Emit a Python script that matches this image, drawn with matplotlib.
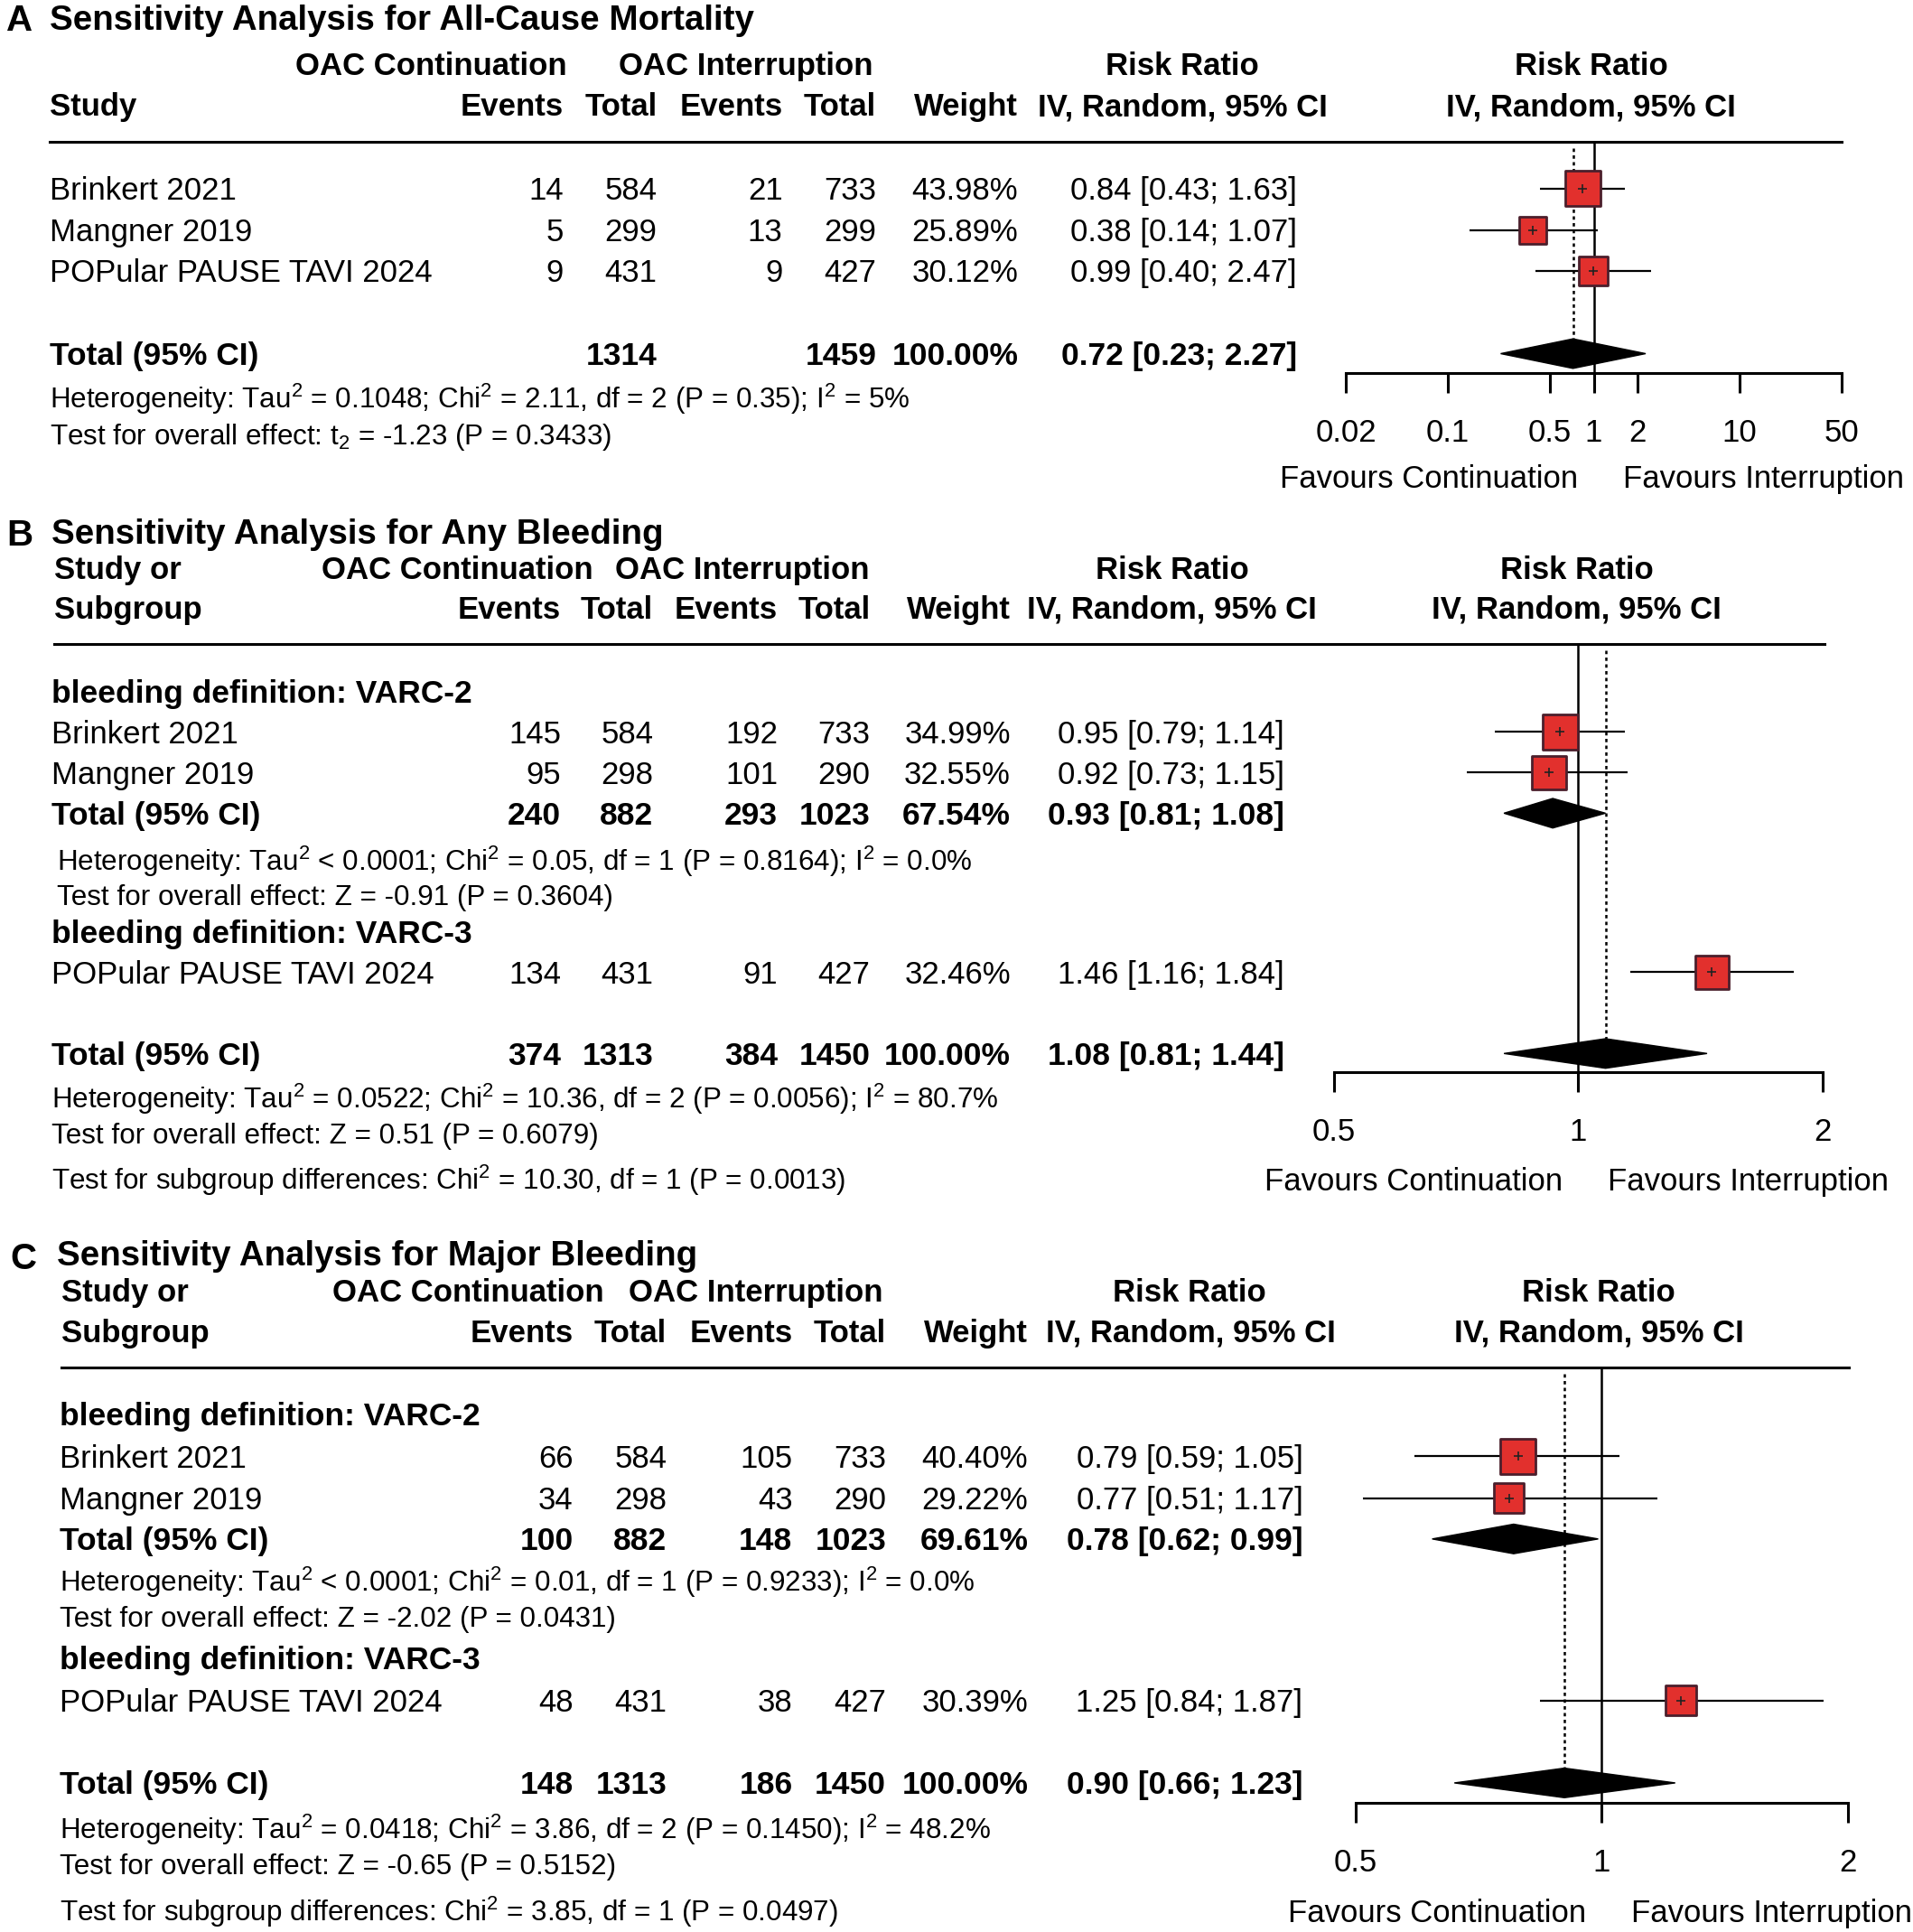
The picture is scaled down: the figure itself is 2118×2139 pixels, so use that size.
import numpy as np
import matplotlib
matplotlib.use('Agg')
import matplotlib.pyplot as plt
from matplotlib.ticker import NullLocator

plt.rcParams['font.family'] = ['Liberation Sans', 'DejaVu Sans']
plt.rcParams['mathtext.fontset'] = 'custom'
plt.rcParams['mathtext.rm'] = 'Liberation Sans'
plt.rcParams['mathtext.it'] = 'Liberation Sans:italic'
plt.rcParams['mathtext.bf'] = 'Liberation Sans:bold'

# ---- data: A all-cause mortality
studies_A = ['Brinkert 2021', 'Mangner 2019', 'POPular PAUSE TAVI 2024']
ev_cont_A = [14, 5, 9]
tot_cont_A = [584, 299, 431]
ev_int_A = [21, 13, 9]
tot_int_A = [733, 299, 427]
weight_A = [43.98, 25.89, 30.12]
rr_A = [0.84, 0.38, 0.99]
lo_A = [0.43, 0.14, 0.40]
hi_A = [1.63, 1.07, 2.47]
total_A = ['', 1314, '', 1459, 100.00, 0.72, 0.23, 2.27]
het_A = ['Heterogeneity: Tau$^2$ = 0.1048; Chi$^2$ = 2.11, df = 2 (P = 0.35); I$^2$ = 5%',
         'Test for overall effect: t$_2$ = -1.23 (P = 0.3433)']
ticks_A = [0.02, 0.1, 0.5, 1, 2, 10, 50]

# ---- data: B any bleeding
studies_B = ['Brinkert 2021', 'Mangner 2019', 'POPular PAUSE TAVI 2024']
ev_cont_B = [145, 95, 134]
tot_cont_B = [584, 298, 431]
ev_int_B = [192, 101, 91]
tot_int_B = [733, 290, 427]
weight_B = [34.99, 32.55, 32.46]
rr_B = [0.95, 0.92, 1.46]
lo_B = [0.79, 0.73, 1.16]
hi_B = [1.14, 1.15, 1.84]
sub_B = [240, 882, 293, 1023, 67.54, 0.93, 0.81, 1.08]
total_B = [374, 1313, 384, 1450, 100.00, 1.08, 0.81, 1.44]
het_B = ['Heterogeneity: Tau$^2$ < 0.0001; Chi$^2$ = 0.05, df = 1 (P = 0.8164); I$^2$ = 0.0%',
         'Test for overall effect: Z = -0.91 (P = 0.3604)',
         'Heterogeneity: Tau$^2$ = 0.0522; Chi$^2$ = 10.36, df = 2 (P = 0.0056); I$^2$ = 80.7%',
         'Test for overall effect: Z = 0.51 (P = 0.6079)',
         'Test for subgroup differences: Chi$^2$ = 10.30, df = 1 (P = 0.0013)']

# ---- data: C major bleeding
studies_C = ['Brinkert 2021', 'Mangner 2019', 'POPular PAUSE TAVI 2024']
ev_cont_C = [66, 34, 48]
tot_cont_C = [584, 298, 431]
ev_int_C = [105, 43, 38]
tot_int_C = [733, 290, 427]
weight_C = [40.40, 29.22, 30.39]
rr_C = [0.79, 0.77, 1.25]
lo_C = [0.59, 0.51, 0.84]
hi_C = [1.05, 1.17, 1.87]
sub_C = [100, 882, 148, 1023, 69.61, 0.78, 0.62, 0.99]
total_C = [148, 1313, 186, 1450, 100.00, 0.90, 0.66, 1.23]
het_C = ['Heterogeneity: Tau$^2$ < 0.0001; Chi$^2$ = 0.01, df = 1 (P = 0.9233); I$^2$ = 0.0%',
         'Test for overall effect: Z = -2.02 (P = 0.0431)',
         'Heterogeneity: Tau$^2$ = 0.0418; Chi$^2$ = 3.86, df = 2 (P = 0.1450); I$^2$ = 48.2%',
         'Test for overall effect: Z = -0.65 (P = 0.5152)',
         'Test for subgroup differences: Chi$^2$ = 3.85, df = 1 (P = 0.0497)']
ticks_BC = [0.5, 1, 2]

SQ_FILL = '#e2302d'
SQ_EDGE = '#4b1f2c'
FS = 25        # body text
FS_B = 25.5    # bold body text
FS_H = 22.6    # heterogeneity lines

# working grid = reference scaled to 1552 x 1568
W, H = 1552, 1568
fig = plt.figure(figsize=(21.18, 21.39), dpi=100)
bg = fig.add_axes([0, 0, 1, 1])
bg.set_xlim(0, W)
bg.set_ylim(H, 0)
bg.axis('off')


def txt(x, y, s, size=None, bold=False, ha='left'):
    if size is None:
        size = FS_B if bold else FS
    bg.text(x, y + 2, s, fontsize=size, fontweight='bold' if bold else 'normal',
            ha=ha, va='center')


def ci_str(r, l, h):
    return f"{r:.2f} [{l:.2f}; {h:.2f}]"


def row_text(cols, y, vals, bold=False):
    # vals: ev1, tot1, ev2, tot2, weight, rr, lo, hi
    for c, v in zip(cols[:4], vals[:4]):
        txt(c, y, str(v), bold=bold, ha='right')
    txt(cols[4], y, f"{vals[4]:.2f}%", bold=bold, ha='right')
    txt(cols[5], y, ci_str(vals[5], vals[6], vals[7]), bold=bold, ha='right')


def header(lay, first, second):
    cols = lay['cols']
    y1, y2 = lay['head_y']
    txt(lay['x'], y1, first, 25, True)
    txt(lay['x'], y2, second, 25, True)
    txt(lay['grp'][0], y1, 'OAC Continuation', 25, True, 'center')
    txt(lay['grp'][1], y1, 'OAC Interruption', 25, True, 'center')
    txt(lay['rr_c'], y1, 'Risk Ratio', 25, True, 'center')
    txt(lay['plot_c'], y1, 'Risk Ratio', 25, True, 'center')
    for c, s in zip(cols[:5], ['Events', 'Total', 'Events', 'Total', 'Weight']):
        txt(c, y2, s, 25, True, 'right')
    txt(lay['ci_head'], y2, 'IV, Random, 95% CI', 25, True, 'right')
    txt(lay['plot_c'], y2, 'IV, Random, 95% CI', 25, True, 'center')
    bg.plot([lay['x'], lay['line_x1']], [lay['line_y'], lay['line_y']],
            color='black', lw=2.2)
    txt(lay['tag'][0], lay['tag'][1], lay['letter'], 29, True)


def forest(lay, xlim, ticks, ys, rr, lo, hi, wt, diamonds, pooled):
    x0, x1 = lay['px']
    ytop, ybot = lay['line_y'], lay['axis_y']
    ax = fig.add_axes([x0 / W, 1 - ybot / H, (x1 - x0) / W, (ybot - ytop) / H])
    ax.set_xscale('log')
    ax.set_xlim(xlim)
    ax.set_ylim(ybot, ytop)
    ax.patch.set_alpha(0)
    for s in ['top', 'left', 'right']:
        ax.spines[s].set_visible(False)
    ax.spines['bottom'].set_linewidth(2.2)
    ax.set_yticks([])
    ax.set_xticks(ticks)
    ax.set_xticklabels([f"{t:g}" for t in ticks], fontsize=25)
    ax.xaxis.set_minor_locator(NullLocator())
    ax.tick_params(axis='x', length=16, width=2.2, pad=20)

    ax.plot([1, 1], [ytop, ybot], color='black', lw=1.8, clip_on=False)
    dtop = diamonds[-1][0] - 12
    ax.plot([pooled, pooled], [ytop + 5, dtop], color='black', lw=1.8,
            ls=(0, (1.5, 1.5)))

    ax.hlines(ys, lo, hi, color='black', lw=1.6, zorder=2)
    w = np.array(wt)
    ax.scatter(rr, ys, s=(28 * np.sqrt(w / w.max())) ** 2, marker='s',
               color=SQ_FILL, edgecolor=SQ_EDGE, linewidth=2.0, zorder=3)
    ax.scatter(rr, ys, s=60, marker='+', color='#222222', linewidth=1.2, zorder=4)
    for y, est, l, h in diamonds:
        ax.fill([l, est, h, est], [y, y - 12, y, y + 12], color='black',
                zorder=3, clip_on=False)

    # favours labels around the line of no effect
    x_one = x0 + (x1 - x0) * (0 - np.log(xlim[0])) / (np.log(xlim[1]) - np.log(xlim[0]))
    fy = ybot + lay['fav_dy']
    txt(x_one - 13, fy, 'Favours Continuation', 25, False, 'right')
    txt(x_one + 24, fy, 'Favours Interruption', 25, False, 'left')


# ================= Panel A
lay_A = dict(letter='A', tag=(5, 15), x=40, head_y=(52, 85), grp=(350, 605),
             rr_c=959, plot_c=1291, cols=[457, 533, 635, 711, 826, 1052],
             ci_head=1077, line_y=115, line_x1=1494, px=(1092, 1494),
             axis_y=303, fav_dy=84)
txt(40, 15, 'Sensitivity Analysis for All-Cause Mortality', 27.7, True)
header(lay_A, '', 'Study')
ys_A = [153, 187, 220]
for i, y in enumerate(ys_A):
    txt(40, y, studies_A[i])
    row_text(lay_A['cols'], y, [ev_cont_A[i], tot_cont_A[i], ev_int_A[i], tot_int_A[i],
                                weight_A[i], rr_A[i], lo_A[i], hi_A[i]])
txt(40, 287, 'Total (95% CI)', bold=True)
row_text(lay_A['cols'], 287, total_A, bold=True)
txt(40, 322, het_A[0], FS_H)
txt(40, 353, het_A[1], FS_H)
forest(lay_A, (0.02, 50), ticks_A, ys_A, rr_A, lo_A, hi_A, weight_A,
       [(287, total_A[5], total_A[6], total_A[7])], total_A[5])

# ================= Panel B
lay_B = dict(letter='B', tag=(5, 433), x=44, head_y=(461, 493), grp=(371, 602),
             rr_c=951, plot_c=1279, cols=[455, 530, 631, 706, 820, 1042],
             ci_head=1068, line_y=523, line_x1=1480, px=(1082, 1479),
             axis_y=870, fav_dy=87)
txt(42, 432, 'Sensitivity Analysis for Any Bleeding', 27.7, True)
header(lay_B, 'Study or', 'Subgroup')
ys_B = [594, 627, 789]
txt(42, 561, 'bleeding definition: VARC-2', bold=True)
txt(42, 756, 'bleeding definition: VARC-3', bold=True)
for i, y in enumerate(ys_B):
    txt(42, y, studies_B[i])
    row_text(lay_B['cols'], y, [ev_cont_B[i], tot_cont_B[i], ev_int_B[i], tot_int_B[i],
                                weight_B[i], rr_B[i], lo_B[i], hi_B[i]])
txt(42, 660, 'Total (95% CI)', bold=True)
row_text(lay_B['cols'], 660, sub_B, bold=True)
txt(42, 855, 'Total (95% CI)', bold=True)
row_text(lay_B['cols'], 855, total_B, bold=True)
for y, s, x in zip([697, 727, 890, 920, 956], het_B, [46, 46, 42, 42, 42]):
    txt(x, y, s, FS_H)
forest(lay_B, (0.5, 2), ticks_BC, ys_B, rr_B, lo_B, hi_B, weight_B,
       [(660, sub_B[5], sub_B[6], sub_B[7]), (855, total_B[5], total_B[6], total_B[7])],
       total_B[5])

# ================= Panel C
lay_C = dict(letter='C', tag=(8, 1020), x=50, head_y=(1047, 1080), grp=(380, 613),
             rr_c=965, plot_c=1297, cols=[465, 541, 643, 719, 834, 1057],
             ci_head=1084, line_y=1110, line_x1=1500, px=(1100, 1499),
             axis_y=1463, fav_dy=88)
txt(46, 1018, 'Sensitivity Analysis for Major Bleeding', 27.7, True)
header(lay_C, 'Study or', 'Subgroup')
ys_C = [1182, 1216, 1380]
txt(48, 1148, 'bleeding definition: VARC-2', bold=True)
txt(48, 1346, 'bleeding definition: VARC-3', bold=True)
for i, y in enumerate(ys_C):
    txt(48, y, studies_C[i])
    row_text(lay_C['cols'], y, [ev_cont_C[i], tot_cont_C[i], ev_int_C[i], tot_int_C[i],
                                weight_C[i], rr_C[i], lo_C[i], hi_C[i]])
txt(48, 1249, 'Total (95% CI)', bold=True)
row_text(lay_C['cols'], 1249, sub_C, bold=True)
txt(48, 1447, 'Total (95% CI)', bold=True)
row_text(lay_C['cols'], 1447, total_C, bold=True)
for y, s in zip([1282, 1312, 1483, 1513, 1550], het_C):
    txt(48, y, s, FS_H)
forest(lay_C, (0.5, 2), ticks_BC, ys_C, rr_C, lo_C, hi_C, weight_C,
       [(1249, sub_C[5], sub_C[6], sub_C[7]), (1447, total_C[5], total_C[6], total_C[7])],
       total_C[5])

fig.savefig('out.png', dpi=100)
